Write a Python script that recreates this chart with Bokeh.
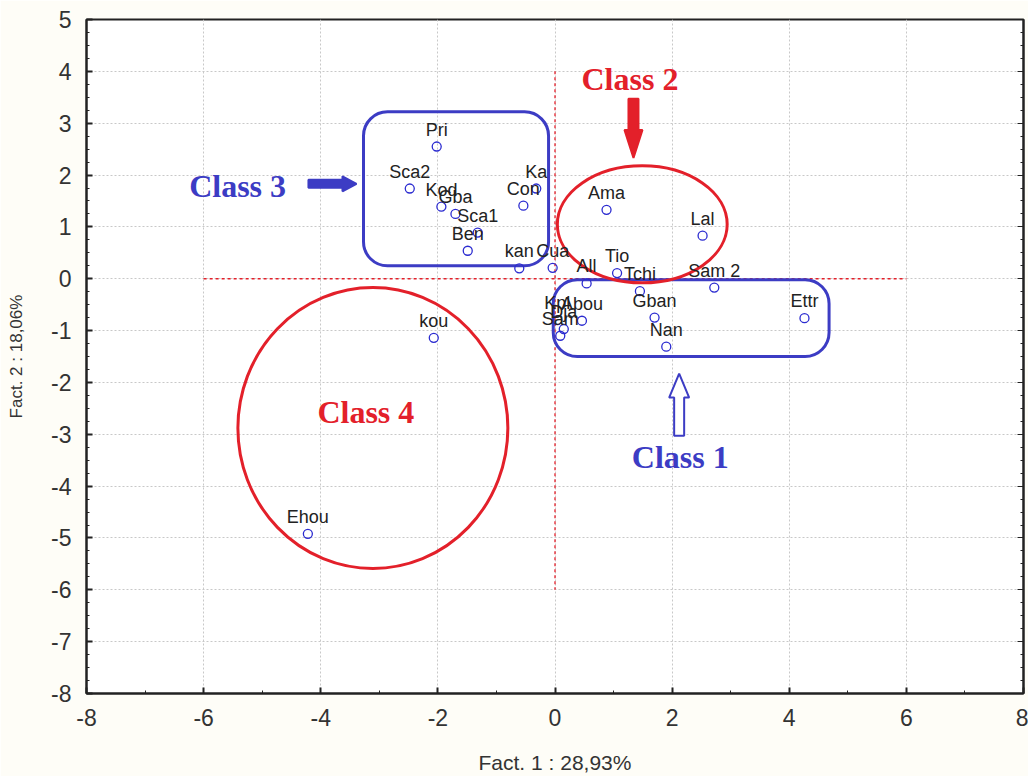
import numpy as np
from bokeh.plotting import figure
from bokeh.models import (ColumnDataSource, LabelSet, Range1d, LinearAxis,
                          FixedTicker, CustomJSTickFormatter)
from bokeh.embed import file_html
from bokeh.resources import INLINE
from bokeh.core.properties import value

# ---------------- data ----------------
names = ["Pri", "Sca2", "Kod", "Gba", "Sca1", "Ben", "Con", "Ka", "kan", "Cua",
         "All", "Tio", "Tchi", "Ama", "Lal", "Sam 2", "Gban", "Nan", "Ettr",
         "Abou", "Dja", "Sam", "Kpl", "kou", "Ehou"]
fact1 = [-2.02, -2.48, -1.94, -1.70, -1.32, -1.49, -0.54, -0.32, -0.61, -0.04,
         0.54, 1.06, 1.45, 0.88, 2.52, 2.72, 1.70, 1.90, 4.26,
         0.46, 0.15, 0.09, 0.04, -2.07, -4.22]
fact2 = [2.55, 1.74, 1.39, 1.25, 0.89, 0.54, 1.41, 1.74, 0.20, 0.21,
         -0.09, 0.11, -0.24, 1.33, 0.83, -0.17, -0.75, -1.31, -0.76,
         -0.81, -0.97, -1.10, -0.80, -1.14, -4.92]

x_ticks = [-8, -6, -4, -2, 0, 2, 4, 6, 8]
y_ticks = [5, 4, 3, 2, 1, 0, -1, -2, -3, -4, -5, -6, -7, -8]
x_label = "Fact. 1 : 28,93%"
y_label = "Fact. 2 : 18,06%"

# class groupings (rounded boxes and ellipses)
box_left = [-3.27, -0.03]
box_right = [-0.11, 4.68]
box_top = [3.22, -0.02]
box_bottom = [0.25, -1.50]

ell_x = [1.49, -3.11]
ell_y = [1.05, -2.88]
ell_w = [2.90, 4.61]
ell_h = [2.26, 5.42]

class_names = ["Class 2", "Class 3", "Class 1", "Class 4"]
class_x = [1.28, -5.42, 2.14, -3.23]
class_y = [3.86, 1.79, -3.43, -2.58]
class_col = ["#e3202a", "#3c3cc4", "#3c3cc4", "#e3202a"]

# arrows: tail -> tip
arr_x0 = [1.34, -4.21, 2.12]
arr_y0 = [3.47, 1.83, -3.03]
arr_x1 = [1.34, -3.39, 2.12]
arr_y1 = [2.33, 1.83, -1.83]
arr_col = ["#e3202a", "#3c3cc4", "#3c3cc4"]
arr_fill = ["#e3202a", "#3c3cc4", "white"]
arr_shaft = [10, 8, 10]
arr_headw = [18, 15, 20]
arr_headl = [28, 14, 24]

# axis-cross reference lines
ref_x0 = [-6, 0]
ref_x1 = [6, 0]
ref_y0 = [0, 4]
ref_y1 = [0, -6]

# ---------------- figure ----------------
FW, FH = 937, 674
XR = (-8, 8)
YR = (-8, 5)

p = figure(frame_width=FW, frame_height=FH, x_range=Range1d(*XR), y_range=Range1d(*YR),
           output_backend="svg", toolbar_location=None,
           min_border_left=86, min_border_top=19, min_border_right=5, min_border_bottom=80)
p.background_fill_color = "white"
p.border_fill_color = "#fefdf7"
p.outline_line_color = "#222222"
p.outline_line_width = 2

xt = FixedTicker(ticks=x_ticks, minor_ticks=list(range(-8, 9)))
yt = FixedTicker(ticks=y_ticks, minor_ticks=list(np.arange(-8, 5.01, 0.25)))
fmt = CustomJSTickFormatter(code="return tick.toFixed(0);")
p.xaxis.ticker = xt
p.yaxis.ticker = yt
p.xaxis.formatter = fmt
p.yaxis.formatter = fmt

for ax in (p.xaxis, p.yaxis):
    ax.axis_line_color = "#222222"
    ax.axis_line_width = 2
    ax.major_tick_in = 6
    ax.major_tick_out = 0
    ax.minor_tick_in = 3
    ax.minor_tick_out = 0
    ax.major_tick_line_color = "#222222"
    ax.minor_tick_line_color = "#222222"
    ax.major_tick_line_width = 2
    ax.major_label_text_font = "Liberation Sans"
    ax.major_label_text_font_size = "23px"
    ax.major_label_text_color = "#333333"
    ax.major_label_standoff = 15
    ax.axis_label_text_font = "Liberation Sans"
    ax.axis_label_text_font_style = "normal"
    ax.axis_label_text_color = "#333333"

p.xaxis.axis_label = x_label
p.yaxis.axis_label = y_label
p.xaxis.axis_label_text_font_size = "21px"
p.yaxis.axis_label_text_font_size = "17px"
p.xaxis.axis_label_standoff = 22
p.yaxis.axis_label_standoff = 22

ra = LinearAxis(ticker=yt, major_label_text_font_size="0px", axis_line_color="#222222",
                axis_line_width=2, major_tick_in=6, major_tick_out=0, minor_tick_in=3,
                minor_tick_out=0, major_tick_line_color="#222222",
                minor_tick_line_color="#222222", major_label_standoff=0)
p.add_layout(ra, "right")

p.grid.grid_line_color = "#c8c8c8"
p.grid.grid_line_dash = "2 2"
p.grid.grid_line_width = 1
p.xgrid.ticker = xt
p.ygrid.ticker = yt

# reference dashed lines
p.segment(x0=ref_x0, y0=ref_y0, x1=ref_x1, y1=ref_y1, line_color="#e3202a",
          line_dash="3 3", line_width=1.3)

# rounded boxes
p.quad(left=box_left, right=box_right, top=box_top, bottom=box_bottom,
       fill_alpha=0, line_color="#3c3cc4", line_width=3, border_radius=24)

# ellipses
p.ellipse(x=ell_x, y=ell_y, width=ell_w, height=ell_h, fill_alpha=0,
          line_color="#e3202a", line_width=3)

# block arrows
sx = FW / (XR[1] - XR[0])
sy = FH / (YR[1] - YR[0])
axs, ays = [], []
for x0, y0, x1, y1, sw, hw, hl in zip(arr_x0, arr_y0, arr_x1, arr_y1,
                                       arr_shaft, arr_headw, arr_headl):
    dx, dy = (x1 - x0) * sx, (y1 - y0) * sy
    L = np.hypot(dx, dy)
    ux, uy = dx / L, dy / L
    nx, ny = -uy, ux
    pts = [(0, sw / 2), (L - hl, sw / 2), (L - hl, hw / 2), (L, 0),
           (L - hl, -hw / 2), (L - hl, -sw / 2), (0, -sw / 2)]
    xs = [x0 + (a * ux + b * nx) / sx for a, b in pts]
    ys = [y0 + (a * uy + b * ny) / sy for a, b in pts]
    axs.append(xs)
    ays.append(ys)
p.patches(xs=axs, ys=ays, fill_color=arr_fill, line_color=arr_col, line_width=2)

# points
src = ColumnDataSource(dict(x=fact1, y=fact2, name=names))
p.scatter("x", "y", source=src, size=9, marker="circle", fill_color="white",
          fill_alpha=0, line_color="#2b2bd0", line_width=1.3)
p.add_layout(LabelSet(x="x", y="y", text="name", source=src, y_offset=11,
                      text_align="center", text_baseline="alphabetic",
                      text_font=value("Liberation Sans"), text_font_size="18px",
                      text_color="#222222"))

# class labels
csrc = ColumnDataSource(dict(x=class_x, y=class_y, t=class_names, c=class_col))
p.text(x="x", y="y", text="t", source=csrc, text_color="c",
       text_font=value("Liberation Serif"), text_font_style="bold",
       text_font_size="32px", text_align="center", text_baseline="middle")

open("out.html", "w").write(file_html(p, INLINE))
